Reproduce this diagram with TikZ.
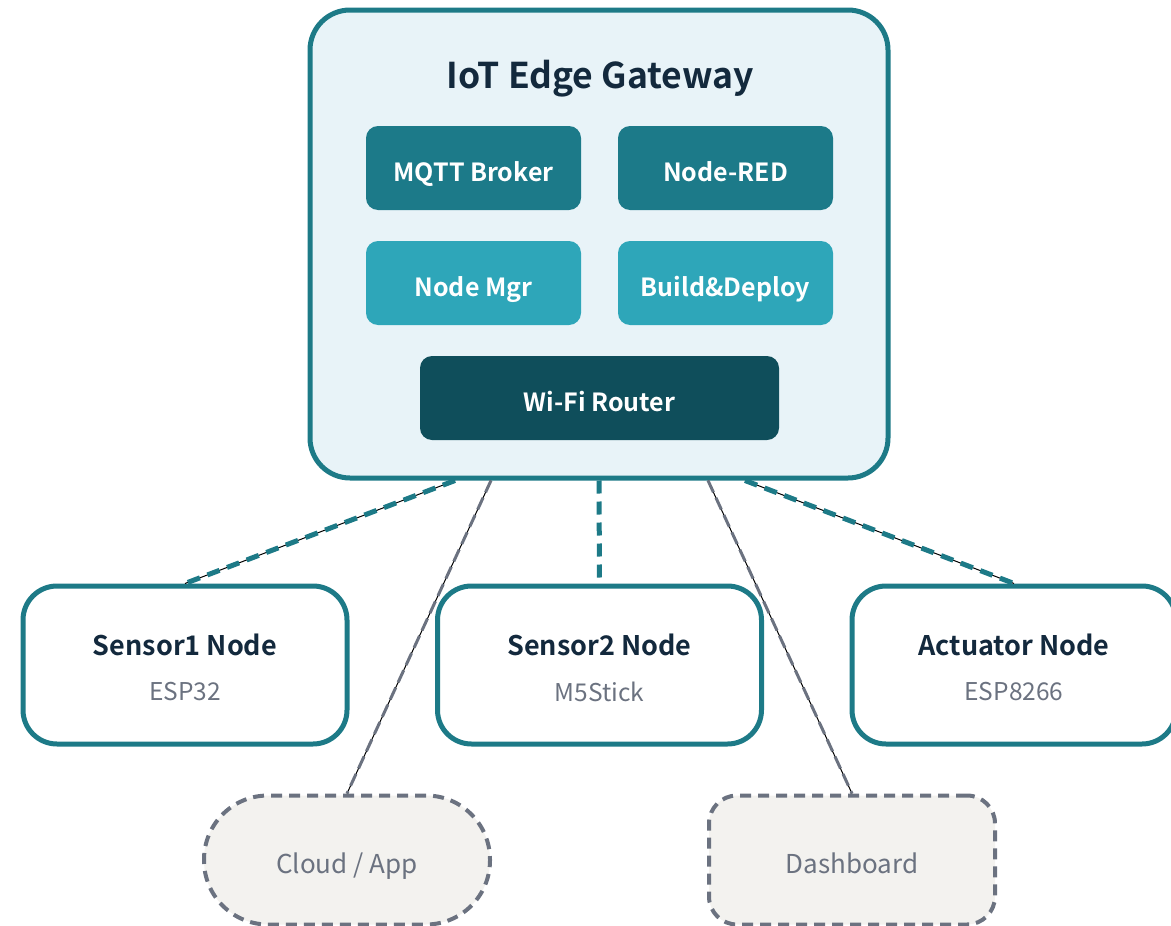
\documentclass[tikz,border=0pt]{standalone}
\usepackage{fontspec}
\setmainfont{Noto Sans CJK SC}[BoldFont={Noto Sans CJK SC Bold}]
\usetikzlibrary{calc}
\definecolor{teal}{HTML}{1D7A87}
\definecolor{gwfill}{HTML}{E8F3F8}
\definecolor{darkteal}{HTML}{1C7A89}
\definecolor{lightteal}{HTML}{2EA6B9}
\definecolor{deepteal}{HTML}{0F4E5B}
\definecolor{navy}{HTML}{13293D}
\definecolor{slate}{HTML}{6B7280}
\definecolor{paper}{HTML}{F3F2EF}
\tikzset{
  gateway/.style={draw=teal, line width=5pt, fill=gwfill, rounded corners=40pt,
    minimum width=578pt, minimum height=468pt},
  svc/.style={rounded corners=12pt, minimum width=215pt, minimum height=84pt,
    text=white, font=\fontsize{25}{30}\selectfont\bfseries,
    text height=30pt, text depth=3pt},
  device/.style={draw=teal, line width=5pt, fill=white, rounded corners=34pt,
    minimum width=324pt, minimum height=158pt, align=center},
  ext/.style={draw=slate, line width=4pt, fill=paper, dash pattern=on 11pt off 7pt,
    minimum width=286pt, minimum height=129pt, text=slate,
    font=\fontsize{26}{30}\selectfont, text height=30pt, text depth=3pt},
  wire/.style={teal, line width=5pt, dash pattern=on 13pt off 8pt},
  guide/.style={black, line width=1pt},
  tap/.style={slate, line width=3pt, dash pattern=on 13pt off 6pt},
}
\begin{document}
\begin{tikzpicture}[x=1pt, y=-1pt]
\useasboundingbox (0,0) rectangle (1171,926);

% gateway and its services
\node[gateway] (gw) at (599,244) {};
\node[font=\fontsize{35.5}{40}\selectfont\bfseries, text=navy] (title) at (600,79) {IoT Edge Gateway};
\node[svc, fill=darkteal] (mqtt) at (473.5,168) {MQTT Broker};
\node[svc, fill=darkteal] (red) at (725.5,168) {Node-RED};
\node[svc, fill=lightteal] (mgr) at (473.5,283) {Node Mgr};
\node[svc, fill=lightteal] (deploy) at (725.5,283) {Build\&Deploy};
\node[svc, fill=deepteal, minimum width=359pt] (wifi) at (599.5,398) {Wi-Fi Router};

% field devices
\node[device] (s1) at (185,665) {};
\node[device] (s2) at (599.5,665) {};
\node[device] (act) at (1014,665) {};
\foreach \n/\t/\s in {s1/Sensor1 Node/ESP32, s2/Sensor2 Node/M5Stick, act/Actuator Node/ESP8266}{
  \node[font=\fontsize{27}{30}\selectfont\bfseries, text=navy] at ($(\n.center)+(0,-20)$) {\t};
  \node[font=\fontsize{24.5}{28}\selectfont, text=slate] at ($(\n.center)+(0,27)$) {\s};
}

% external consumers
\node[ext, rounded corners=64pt] (cloud) at (347,860) {Cloud / App};
\node[ext, rounded corners=28pt] (dash) at (852,860) {Dashboard};

% attachment points on the gateway's lower edge
\coordinate (g1) at ($(gw.south)+(-144,0)$);
\coordinate (g2) at ($(gw.south)+(-108,0)$);
\coordinate (g3) at ($(gw.south)+(0,0)$);
\coordinate (g4) at ($(gw.south)+(109,0)$);
\coordinate (g5) at ($(gw.south)+(146,0)$);

% links
\draw[guide] (g1) -- (s1.north);
\draw[wire] (g1) -- (s1.north);
\draw[wire] (g3) -- (s2.north);
\draw[guide] (g5) -- (act.north);
\draw[wire] (g5) -- (act.north);
\draw[guide] (g2) -- (cloud.north);
\draw[tap] (g2) -- (cloud.north);
\draw[guide] (g4) -- (dash.north);
\draw[tap] (g4) -- (dash.north);
\end{tikzpicture}
\end{document}
